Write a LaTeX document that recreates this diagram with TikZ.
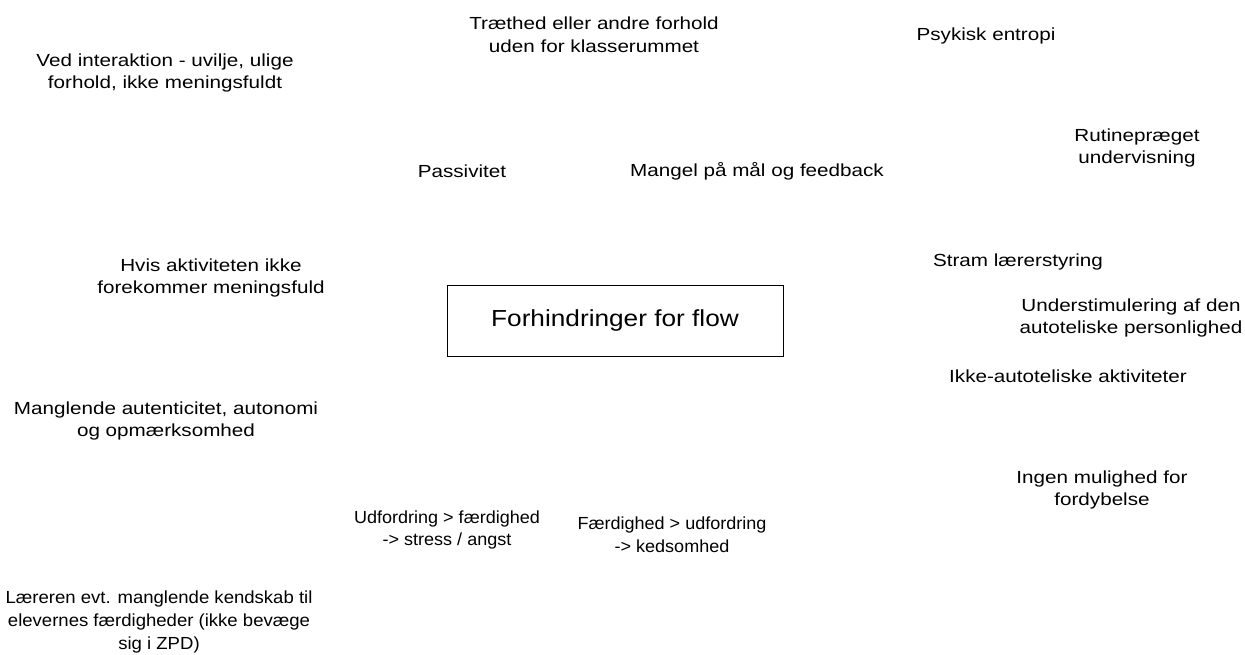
\documentclass[tikz,border=0pt]{standalone}
\usepackage{fontspec}
\setmainfont{Liberation Sans}
\newfontfamily\widesmall[FakeStretch=1.18]{Liberation Sans}
\newfontfamily\widebig[FakeStretch=1.13]{Liberation Sans}
\newfontfamily\narrowa[FakeStretch=1.03]{Liberation Sans}
\newfontfamily\narrowb[FakeStretch=1.06]{Liberation Sans}
\begin{document}
\begin{tikzpicture}[x=1pt,y=-1pt,
  lbl/.style={align=center,inner sep=0pt,font=\widesmall\fontsize{17.5}{22.8}\selectfont},
  lbla/.style={align=center,inner sep=0pt,font=\narrowa\fontsize{17.5}{22.8}\selectfont},
  lblb/.style={align=center,inner sep=0pt,font=\narrowb\fontsize{17.5}{22.8}\selectfont},
  mainbox/.style={draw,line width=0.8pt,minimum width=336pt,minimum height=71pt,inner sep=0pt,font=\widebig\fontsize{23.2}{28}\selectfont}]
\useasboundingbox (0,0) rectangle (1245,655);
\node[mainbox] (main) at (615,320.5) {Forhindringer for flow};
\node[lbl] (a) at (165,73) {Ved interaktion - uvilje, ulige\\forhold, ikke meningsfuldt};
\node[lbl] (b) at (594,35) {Træthed eller andre forhold\\uden for klasserummet};
\node[lbl] (c) at (986,36) {Psykisk entropi};
\node[lbl] (d) at (1137,148) {Rutinepræget\\undervisning};
\node[lbl] (e) at (462,171) {Passivitet};
\node[lbl] (f) at (757,171) {Mangel på mål og feedback};
\node[lbl] (g) at (211,278) {Hvis aktiviteten ikke\\forekommer meningsfuld};
\node[lbl] (h) at (1018,262) {Stram lærerstyring};
\node[lbl] (i) at (1131,318) {Understimulering af den\\autoteliske personlighed};
\node[lbl] (j) at (1068,376) {Ikke-autoteliske aktiviteter};
\node[lbl] (k) at (166,421) {Manglende autenticitet, autonomi\\og opmærksomhed};
\node[lbl] (l) at (1102,490) {Ingen mulighed for\\fordybelse};
\node[lbla] (m) at (447,530) {Udfordring > færdighed\\-> stress / angst};
\node[lbla] (n) at (672,535) {Færdighed > udfordring\\-> kedsomhed};
\node[lblb] (o) at (159,622) {Læreren evt. manglende kendskab til\\elevernes færdigheder (ikke bevæge\\sig i ZPD)};
\end{tikzpicture}
\end{document}
